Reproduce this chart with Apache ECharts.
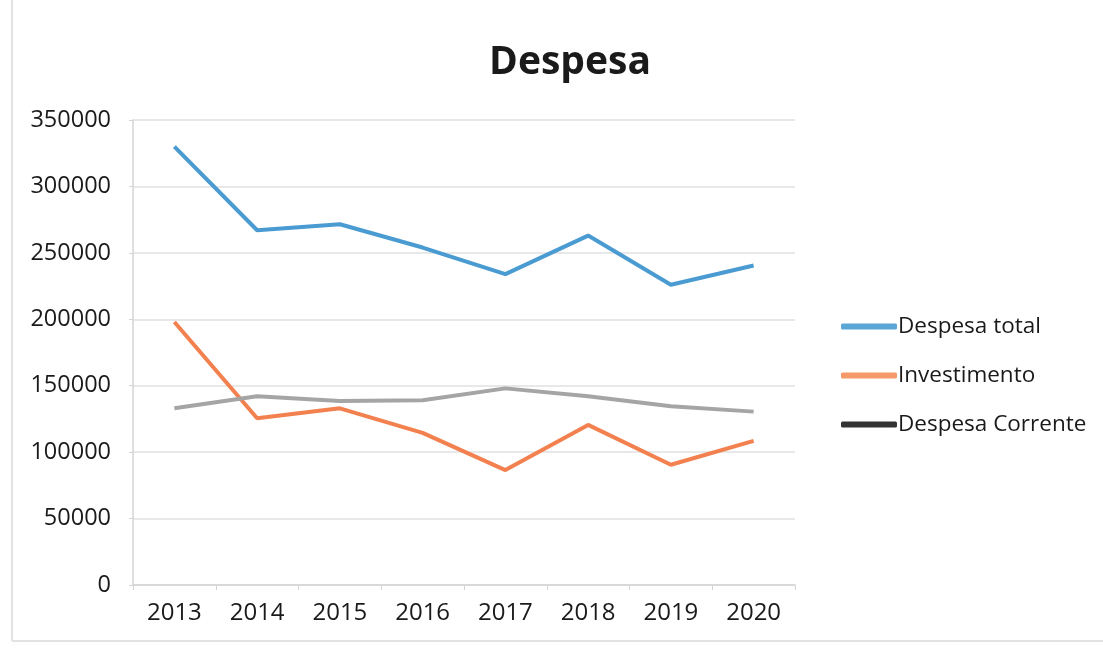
<!DOCTYPE html>
<html>
<head>
<meta charset="utf-8">
<script src="https://cdn.jsdelivr.net/npm/echarts@6/dist/echarts.min.js"></script>
<style>html,body{margin:0;padding:0;background:#fff;}#chart{width:1103px;height:648px;}</style>
</head>
<body>
<div id="chart"></div>
<script>
const categories = ['2013','2014','2015','2016','2017','2018','2019','2020'];
const despesaTotal = [330000, 267000, 271500, 254000, 234000, 263000, 226000, 240500];
const investimento = [198000, 125500, 133000, 114500, 86500, 120500, 90500, 108500];
const despesaCorrente = [133000, 142000, 138500, 139000, 148000, 142000, 134500, 130500];
const yTicks = [0, 50000, 100000, 150000, 200000, 250000, 300000, 350000];

const chart = echarts.init(document.getElementById('chart'));
const font = 'Open Sans';
chart.setOption({
  backgroundColor: '#ffffff',
  animation: false,
  title: {
    text: 'Despesa', left: 565, top: 38, textAlign: 'center',
    textStyle: { fontFamily: font, fontWeight: 'bold', fontSize: 39, color: '#1a1a1a' }
  },
  grid: { left: 133, right: 308, top: 120, bottom: 63, containLabel: false },
  legend: {
    orient: 'vertical', left: 836, top: 310,
    icon: 'roundRect', itemWidth: 56, itemHeight: 6, itemGap: 26,
    textStyle: { fontFamily: font, fontSize: 22.5, color: '#1a1a1a', padding: [0,0,0,-4] },
    data: [
      { name: 'Despesa total', itemStyle: { color: '#5aa6d6' } },
      { name: 'Investimento', itemStyle: { color: '#f79a6a' } },
      { name: 'Despesa Corrente', itemStyle: { color: '#333333' } }
    ]
  },
  xAxis: {
    type: 'category', data: categories, boundaryGap: true,
    axisLine: { lineStyle: { color: '#d4d4d4', width: 1.5 } },
    axisTick: { show: true, length: 5, lineStyle: { color: '#d4d4d4' } },
    axisLabel: { fontFamily: font, fontSize: 24, color: '#1a1a1a', margin: 16 }
  },
  yAxis: {
    type: 'value', min: yTicks[0], max: yTicks[yTicks.length-1], interval: 50000,
    axisLine: { show: true, lineStyle: { color: '#d4d4d4', width: 1.5 } },
    axisTick: { show: true, length: 4, lineStyle: { color: '#d4d4d4' } },
    splitLine: { lineStyle: { color: '#e0e0e0', width: 1.5 } },
    axisLabel: { fontFamily: font, fontSize: 23.5, color: '#1a1a1a', margin: 22,
      formatter: function (v) { return String(v); } }
  },
  series: [
    { name: 'Despesa total', type: 'line', data: despesaTotal, showSymbol: false,
      itemStyle: { color: '#4a9bd2' }, lineStyle: { width: 4, color: '#4a9bd2' } },
    { name: 'Investimento', type: 'line', data: investimento, showSymbol: false,
      itemStyle: { color: '#f3814f' }, lineStyle: { width: 4, color: '#f3814f' } },
    { name: 'Despesa Corrente', type: 'line', data: despesaCorrente, showSymbol: false,
      itemStyle: { color: '#a5a5a5' }, lineStyle: { width: 4, color: '#a5a5a5' } }
  ],
  graphic: [
    { type: 'line', shape: { x1: 12, y1: 0, x2: 12, y2: 641 }, style: { stroke: '#e2e2e2', lineWidth: 2 } },
    { type: 'line', shape: { x1: 12, y1: 641, x2: 1103, y2: 641 }, style: { stroke: '#e2e2e2', lineWidth: 2 } }
  ]
});
</script>
</body>
</html>
